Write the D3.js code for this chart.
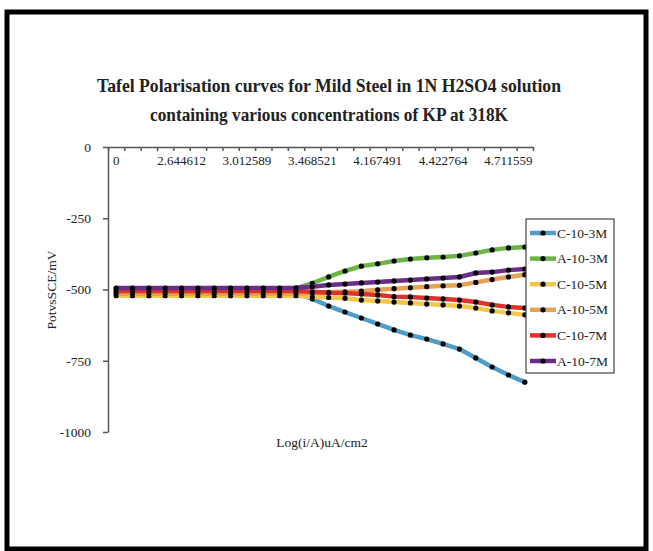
<!DOCTYPE html>
<html>
<head>
<meta charset="utf-8">
<script src="https://cdn.jsdelivr.net/npm/d3@7"></script>
<style>
  body { margin: 0; background: #fff; }
  svg text { font-family: "Liberation Serif", "Times New Roman", serif; fill: #222; }
</style>
</head>
<body>
<svg id="chart" width="653" height="551"></svg>
<script>
// category axis labels (shown every 4th category)
const xLabels = ["0", "2.644612", "3.012589", "3.468521", "4.167491", "4.422764", "4.711559"];
const labelStep = 4;
const yTicks = [0, -250, -500, -750, -1000];

// series values, 26 points each
const seriesNames = ["C-10-3M", "A-10-3M", "C-10-5M", "A-10-5M", "C-10-7M", "A-10-7M"];
const c103 = [-510, -510, -510, -510, -510, -510, -510, -510, -510, -510, -510, -512, -533, -558, -579, -600, -621, -642, -660, -674, -691, -709, -740, -772, -800, -825];
const a103 = [-498, -498, -498, -498, -498, -498, -498, -498, -498, -498, -498, -496, -478, -456, -435, -418, -410, -400, -393, -389, -386, -382, -372, -361, -354, -351];
const c105 = [-522, -522, -522, -522, -522, -522, -522, -522, -522, -522, -522, -522, -526, -528, -531, -537, -540, -544, -547, -551, -554, -558, -565, -575, -582, -589];
const a105 = [-515, -515, -515, -515, -515, -515, -515, -515, -515, -515, -515, -515, -512, -510, -508, -506, -501, -497, -494, -490, -487, -485, -475, -465, -456, -448];
const c107 = [-505, -505, -505, -505, -505, -505, -505, -505, -505, -505, -505, -505, -508, -511, -512, -516, -519, -525, -526, -530, -533, -537, -544, -554, -561, -565];
const a107 = [-495, -495, -495, -495, -495, -495, -495, -495, -495, -495, -495, -494, -490, -484, -481, -477, -474, -470, -467, -463, -460, -456, -442, -439, -432, -428];
const seriesValues = [c103, a103, c105, a105, c107, a107];
const colors = ["#4f9cc6", "#6db447", "#f2c84b", "#e3a352", "#e0322b", "#6b2d88"];

const svg = d3.select("#chart");

// frame
svg.append("rect")
  .attr("x", 7).attr("y", 12)
  .attr("width", 639).attr("height", 537)
  .attr("fill", "none").attr("stroke", "#000").attr("stroke-width", 5);

// title
svg.append("text").attr("x", 329).attr("y", 92)
  .attr("text-anchor", "middle").attr("font-size", 19).attr("font-weight", "bold")
  .attr("fill", "#111")
  .attr("textLength", 464).attr("lengthAdjust", "spacingAndGlyphs")
  .text("Tafel Polarisation curves for Mild Steel in 1N H2SO4 solution");
svg.append("text").attr("x", 329).attr("y", 121)
  .attr("text-anchor", "middle").attr("font-size", 19).attr("font-weight", "bold")
  .attr("fill", "#111")
  .attr("textLength", 358).attr("lengthAdjust", "spacingAndGlyphs")
  .text("containing various concentrations of KP at 318K");

const n = c103.length;
const x = d3.scaleBand().domain(d3.range(n)).range([108, 533]);
const xEdge = d3.scaleLinear().domain([0, n]).range([108, 533]);
const y = d3.scaleLinear().domain([-1000, 0]).range([432, 147]);
const cx = i => x(i) + x.bandwidth() / 2;

// x axis (at y = 0, top)
const gx = svg.append("g").attr("transform", "translate(0," + y(0) + ")");
gx.call(d3.axisBottom(xEdge).tickValues(d3.range(n + 1)).tickSize(4).tickSizeOuter(0).tickFormat(""));
gx.selectAll("path, line").attr("stroke", "#555").attr("stroke-width", 1.5);

const gxl = svg.append("g").attr("transform", "translate(0," + y(0) + ")");
gxl.call(d3.axisBottom(x)
  .tickValues(xLabels.map((d, k) => k * labelStep))
  .tickSize(0).tickPadding(9)
  .tickFormat(i => xLabels[i / labelStep]));
gxl.select(".domain").remove();
gxl.selectAll("text").attr("font-size", 13).attr("font-family", "Liberation Serif").attr("fill", "#222");

// y axis
const gy = svg.append("g").attr("transform", "translate(108,0)");
gy.call(d3.axisLeft(y).tickValues(yTicks).tickSize(5).tickSizeOuter(0).tickPadding(12).tickFormat(d => String(d)));
gy.selectAll("path, line").attr("stroke", "#555").attr("stroke-width", 1.5);
gy.selectAll("text").attr("font-size", 13.5).attr("font-family", "Liberation Serif").attr("fill", "#222");

// axis titles
svg.append("text").attr("transform", "translate(56,290) rotate(-90)")
  .attr("text-anchor", "middle").attr("font-size", 13.5).text("PotvsSCE/mV");
svg.append("text").attr("x", 322).attr("y", 447)
  .attr("text-anchor", "middle").attr("font-size", 13.5).text("Log(i/A)uA/cm2");

// lines
const line = d3.line().x((d, i) => cx(i)).y(d => y(d));
seriesValues.forEach((vals, s) => {
  svg.append("path").datum(vals)
    .attr("d", line).attr("fill", "none")
    .attr("stroke", colors[s]).attr("stroke-width", 4.5)
    .attr("stroke-linejoin", "round");
  svg.append("g").selectAll("circle").data(vals).enter().append("circle")
    .attr("cx", (d, i) => cx(i)).attr("cy", d => y(d)).attr("r", 2.6).attr("fill", "#000");
});

// legend
const lg = svg.append("g");
lg.append("rect").attr("x", 526).attr("y", 219).attr("width", 88).attr("height", 154)
  .attr("fill", "#fff").attr("stroke", "#444").attr("stroke-width", 1.2);
seriesNames.forEach((name, s) => {
  const ly = 233 + s * 25.6;
  lg.append("line").attr("x1", 530).attr("x2", 556).attr("y1", ly).attr("y2", ly)
    .attr("stroke", colors[s]).attr("stroke-width", 4.5);
  lg.append("circle").attr("cx", 543).attr("cy", ly).attr("r", 2.6).attr("fill", "#000");
  lg.append("text").attr("x", 557).attr("y", ly + 4.5).attr("font-size", 13.5).text(name);
});
</script>
</body>
</html>
